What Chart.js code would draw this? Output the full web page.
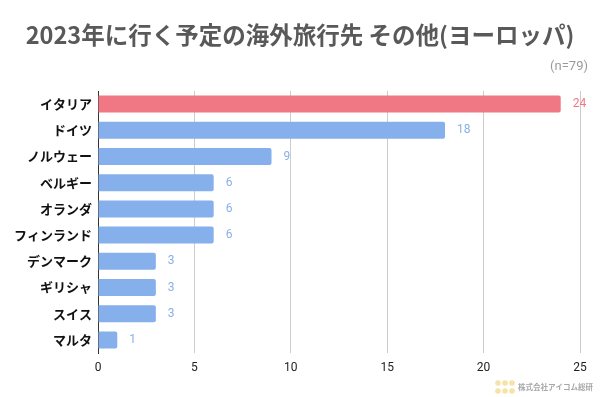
<!DOCTYPE html>
<html>
<head>
<meta charset="utf-8">
<script src="https://cdn.jsdelivr.net/npm/chart.js@4"></script>
<style>
  html, body { margin: 0; padding: 0; background: #fff; }
  #wrap { width: 600px; height: 397px; }
</style>
</head>
<body>
<div id="wrap"><canvas id="myChart" width="600" height="397"></canvas></div>
<script>
const categories = ['イタリア', 'ドイツ', 'ノルウェー', 'ベルギー', 'オランダ', 'フィンランド', 'デンマーク', 'ギリシャ', 'スイス', 'マルタ'];
const counts = [24, 18, 9, 6, 6, 6, 3, 3, 3, 1];
const barColors = ['#f07885', '#86b0eb', '#86b0eb', '#86b0eb', '#86b0eb', '#86b0eb', '#86b0eb', '#86b0eb', '#86b0eb', '#86b0eb'];
const xTicks = [0, 5, 10, 15, 20, 25];

const titleText = '2023年に行く予定の海外旅行先 その他(ヨーロッパ)';
const sampleText = '(n=79)';
const FONT = "Roboto, 'Noto Sans CJK JP', sans-serif";

// title, sample size, value labels and logo
const extras = {
    id: 'extras',
    afterDatasetsDraw(chart) {
        const c = chart.ctx;
        const meta = chart.getDatasetMeta(0);
        c.save();
        c.font = '12px ' + FONT;
        c.textBaseline = 'middle';
        c.textAlign = 'left';
        meta.data.forEach((bar, i) => {
            c.fillStyle = barColors[i];
            c.fillText(String(counts[i]), bar.x + 12, bar.y);
        });
        c.restore();
    },
    afterDraw(chart) {
        const c = chart.ctx;
        c.save();
        c.fillStyle = '#595959';
        c.font = "bold 23.5px 'Noto Sans CJK JP', Roboto, sans-serif";
        c.textAlign = 'center';
        c.textBaseline = 'middle';
        c.fillText(titleText, 300, 35);

        c.fillStyle = '#9a9a9a';
        c.font = '13px ' + FONT;
        c.textAlign = 'right';
        c.fillText(sampleText, 588, 67);

        // logo
        c.fillStyle = '#f6e3a8';
        for (let r = 0; r < 2; r++) {
            for (let k = 0; k < 3; k++) {
                c.beginPath();
                c.arc(498 + k * 7, 383 + r * 8, 2.8, 0, Math.PI * 2);
                c.fill();
            }
        }
        c.fillStyle = '#a8a8a8';
        c.font = "bold 7.5px 'Noto Sans CJK JP', sans-serif";
        c.textAlign = 'left';
        c.fillText('株式会社アイコム総研', 518, 387);
        c.restore();
    }
};

const ctx = document.getElementById('myChart');
const myChart = new Chart(ctx, {
    type: 'bar',
    data: {
        labels: categories,
        datasets: [{
            data: counts,
            backgroundColor: barColors,
            borderRadius: 2,
            borderSkipped: 'start',
            categoryPercentage: 1,
            barPercentage: 0.65
        }]
    },
    options: {
        indexAxis: 'y',
        responsive: false,
        animation: false,
        layout: {
            padding: { top: 91, right: 20, bottom: 0, left: 0 }
        },
        plugins: {
            legend: { display: false },
            tooltip: { enabled: false },
            title: { display: false }
        },
        scales: {
            x: {
                min: 0,
                max: 25,
                afterBuildTicks: (scale) => {
                    scale.ticks = xTicks.map(v => ({ value: v }));
                },
                grid: { color: '#cccccc', drawTicks: false },
                border: { display: false },
                ticks: {
                    padding: 8,
                    color: '#222',
                    font: { family: FONT, size: 12 }
                },
                afterFit: (scale) => { scale.height = 44; }
            },
            y: {
                grid: { display: false, drawTicks: false },
                border: { display: true, color: '#333', width: 1 },
                ticks: {
                    padding: 6,
                    color: '#111',
                    font: { family: "'Noto Sans CJK JP', sans-serif", size: 13, weight: 'bold' }
                },
                afterFit: (scale) => { scale.width = 98; }
            }
        }
    },
    plugins: [extras]
});
</script>
</body>
</html>
